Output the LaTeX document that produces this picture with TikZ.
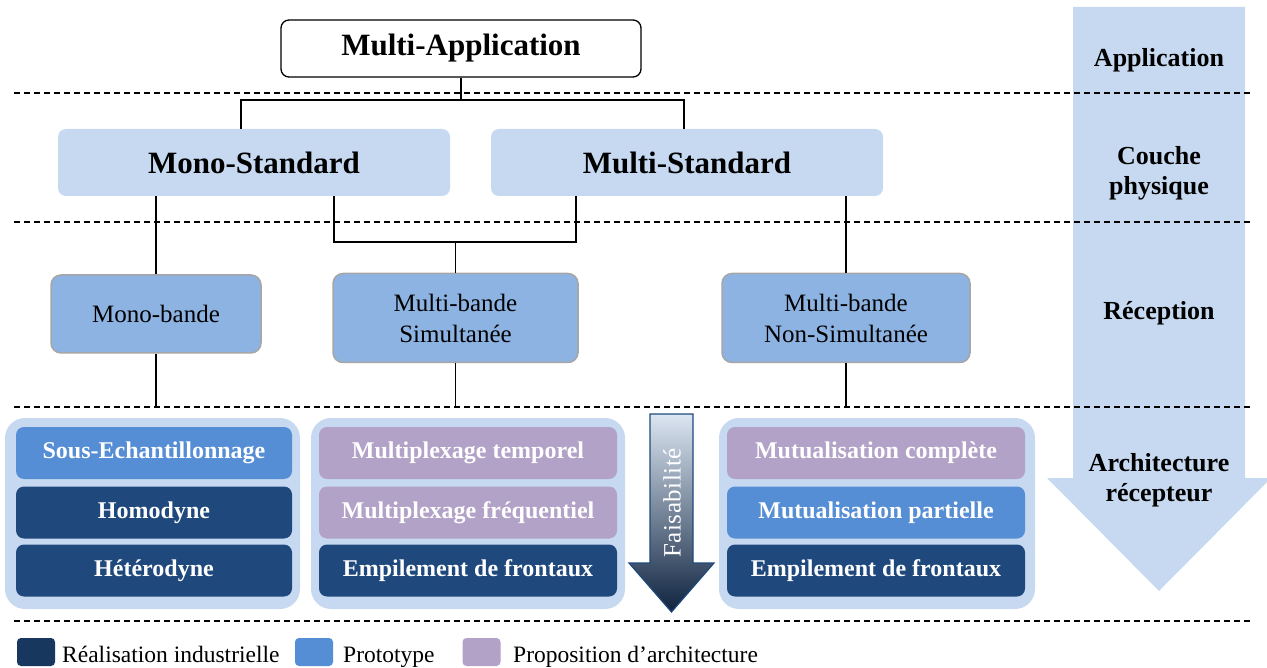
\documentclass[tikz,border=0pt]{standalone}
\usepackage{fontspec}
\setmainfont{Liberation Serif}
\usetikzlibrary{calc}
\definecolor{lb}{HTML}{C6D9F1}
\definecolor{mb}{HTML}{8DB3E2}
\definecolor{proto}{HTML}{558ED5}
\definecolor{indus}{HTML}{1F497D}
\definecolor{indusL}{HTML}{17375E}
\definecolor{prop}{HTML}{B2A2C7}
\definecolor{bord}{HTML}{A6A6A6}
\definecolor{fatop}{HTML}{DCE6F2}
\definecolor{fabot}{HTML}{0F2340}
\begin{document}
\begin{tikzpicture}[x=1pt,y=-1pt,
  conn/.style={line width=1.7pt, black},
  sep/.style={dash pattern=on 6pt off 4pt, line width=1.4pt, black},
  appbox/.style={draw=black, line width=1.3pt, fill=white, rounded corners=8pt, minimum width=360pt, minimum height=57pt, inner sep=0pt, font=\fontsize{31}{36}\selectfont\bfseries},
  stdbox/.style={fill=lb, rounded corners=8pt, minimum width=392pt, minimum height=67pt, inner sep=0pt, font=\fontsize{31}{36}\selectfont\bfseries},
  recbox/.style={fill=mb, draw=bord, line width=1.5pt, rounded corners=10pt, inner sep=0pt, align=center, font=\fontsize{25}{31}\selectfont},
  cont/.style={fill=lb, rounded corners=20pt, inner sep=0pt},
  ibox/.style={rounded corners=8pt, inner sep=0pt, minimum height=52pt, text=white, font=\fontsize{24}{28}\selectfont\bfseries},
  lab/.style={align=center, font=\fontsize{26}{30}\selectfont\bfseries},
  legsq/.style={rounded corners=4pt, minimum width=38pt, minimum height=28pt, inner sep=0pt},
  legtxt/.style={anchor=base west, inner sep=0pt, font=\fontsize{23.5}{28}\selectfont}
]
\useasboundingbox (0,0) rectangle (1267,668);

% big right arrow
\fill[lb] (1073,7) -- (1245,7) -- (1245,478) -- (1271,478) -- (1159,591) -- (1047,478) -- (1073,478) -- cycle;

% separators
\draw[sep] (14,93) -- (1252,93);
\draw[sep] (14,222) -- (1252,222);
\draw[sep] (14,407) -- (1252,407);
\draw[sep] (14,621) -- (1252,621);

% right labels
\node[lab] (lapp) at (1159,60) {Application};
\node[lab] (lphy) at (1159,173) {Couche\\physique};
\node[lab] (lrec) at (1159,313) {Réception};
\node[lab] (larc) at (1159,480) {Architecture\\récepteur};

% top nodes
\node[appbox] (app) at (461,48.5) {Multi-Application};
\node[stdbox] (mono) at (254,162.5) {Mono-Standard};
\node[stdbox] (multi) at (687,162.5) {Multi-Standard};

\coordinate (bus) at (461,100);
\draw[conn] (app.south) -- (bus);
\draw[conn] (mono.north -| 241,0) |- (bus) -| (multi.north -| 684,0);

% reception nodes
\node[recbox, minimum width=210pt, minimum height=78pt] (monob) at (156,314) {Mono-bande};
\node[recbox, minimum width=245pt, minimum height=89pt] (simul) at (455.5,318) {Multi-bande\\Simultanée};
\node[recbox, minimum width=248pt, minimum height=89pt] (nonsim) at (846,318) {Multi-bande\\Non-Simultanée};

\coordinate (bus2) at (455.5,242);
\draw[conn] (mono.south -| monob.north) -- (monob.north);
\draw[conn] (mono.south -| 334,0) |- (bus2) -| (multi.south -| 576,0);
\draw[conn] (bus2) -- (simul.north);
\draw[conn] (multi.south -| nonsim.north) -- (nonsim.north);

\coordinate (e1) at (156,407);
\coordinate (e2) at (455.5,407);
\coordinate (e3) at (846,407);
\draw[conn] (monob.south) -- (e1);
\draw[conn] (simul.south) -- (e2);
\draw[conn] (nonsim.south) -- (e3);

% containers
\node[cont, minimum width=295pt, minimum height=191pt] (c1) at (152.5,513.5) {};
\node[cont, minimum width=314pt, minimum height=191pt] (c2) at (468,513.5) {};
\node[cont, minimum width=316pt, minimum height=191pt] (c3) at (877,513.5) {};

\node[ibox, fill=proto, minimum width=276pt] (a1) at (154,453) {Sous-Echantillonnage};
\node[ibox, fill=indus, minimum width=276pt] (a2) at (154,512.5) {Homodyne};
\node[ibox, fill=indus, minimum width=276pt] (a3) at (154,570.5) {Hétérodyne};

\node[ibox, fill=prop, minimum width=298pt] (b1) at (468,453) {Multiplexage temporel};
\node[ibox, fill=prop, minimum width=298pt] (b2) at (468,512.5) {Multiplexage fréquentiel};
\node[ibox, fill=indus, minimum width=298pt] (b3) at (468,570.5) {Empilement de frontaux};

\node[ibox, fill=prop, minimum width=298pt] (d1) at (876,453) {Mutualisation complète};
\node[ibox, fill=proto, minimum width=298pt] (d2) at (876,512.5) {Mutualisation partielle};
\node[ibox, fill=indus, minimum width=298pt] (d3) at (876,570.5) {Empilement de frontaux};

% faisabilite arrow
\path[top color=fatop, bottom color=fabot, draw=indus, line width=1.2pt]
  (650,414) -- (693,414) -- (693,563) -- (714,563) -- (671.5,612) -- (629,563) -- (650,563) -- cycle;
\node[rotate=90, text=white, inner sep=0pt, font=\fontsize{25}{30}\selectfont\addfontfeatures{LetterSpace=2}] (fais) at (672,503) {Faisabilité};

% legend
\node[legsq, fill=indusL] (q1) at (36,652) {};
\node[legtxt] (t1) at (62,662) {Réalisation industrielle};
\node[legsq, fill=proto] (q2) at (314,652) {};
\node[legtxt] (t2) at (343,662) {Prototype};
\node[legsq, fill=prop] (q3) at (481.5,652) {};
\node[legtxt] (t3) at (513,662) {Proposition d’architecture};
\end{tikzpicture}
\end{document}
